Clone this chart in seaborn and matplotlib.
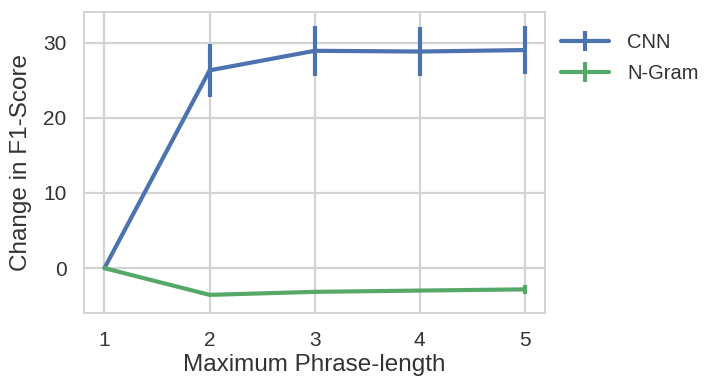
import matplotlib
matplotlib.use("Agg")
import matplotlib.pyplot as plt
import seaborn as sns
import pandas as pd

phrase_length = [1, 2, 3, 4, 5]
cnn_change = [0.0, 26.3, 28.9, 28.8, 29.0]
cnn_err = [0.0, 3.5, 3.3, 3.2, 3.2]
ngram_change = [0.0, -3.55, -3.15, -2.98, -2.82]
ngram_err = [0.0, 0.15, 0.2, 0.2, 0.6]
series_names = ["CNN", "N-Gram"]

sns.set_theme(style="whitegrid", palette="deep",
              rc={"grid.linewidth": 1.6, "grid.color": "#d3d3d3",
                  "axes.edgecolor": "#d3d3d3", "axes.linewidth": 1.4})
plt.rcParams["font.family"] = ["Liberation Sans", "DejaVu Sans"]

df = pd.DataFrame({
    "length": phrase_length * 2,
    "change": cnn_change + ngram_change,
    "err": cnn_err + ngram_err,
    "model": [series_names[0]] * 5 + [series_names[1]] * 5,
})

fig = plt.figure(figsize=(7.04, 3.77), dpi=100)
ax = fig.add_axes([0.12, 0.171, 0.654, 0.796])

colors = sns.color_palette("deep")
series_colors = [colors[0], colors[2]]
for i, name in enumerate(series_names):
    sub = df[df["model"] == name]
    ax.errorbar(sub["length"], sub["change"], yerr=sub["err"],
                color=series_colors[i], lw=3, elinewidth=3,
                capsize=0, label=name)

ax.set_xlim(0.81, 5.19)
ax.set_ylim(-5.9, 34)
ax.set_xticks(phrase_length)
ax.set_yticks([0, 10, 20, 30])
ax.tick_params(labelsize=15, pad=7, labelcolor="#333333")
ax.set_xlabel("Maximum Phrase-length", fontsize=17.5, labelpad=3, color="#333333")
ax.set_ylabel("Change in F1-Score", fontsize=17.5, labelpad=8, color="#333333")
leg = ax.legend(loc="upper left", bbox_to_anchor=(1.0, 0.985), frameon=False,
                fontsize=14.5, handlelength=2.4, handletextpad=0.9,
                labelspacing=0.6, borderaxespad=0.4)
for t in leg.get_texts():
    t.set_color("#333333")

fig.savefig("out.png", dpi=100)
